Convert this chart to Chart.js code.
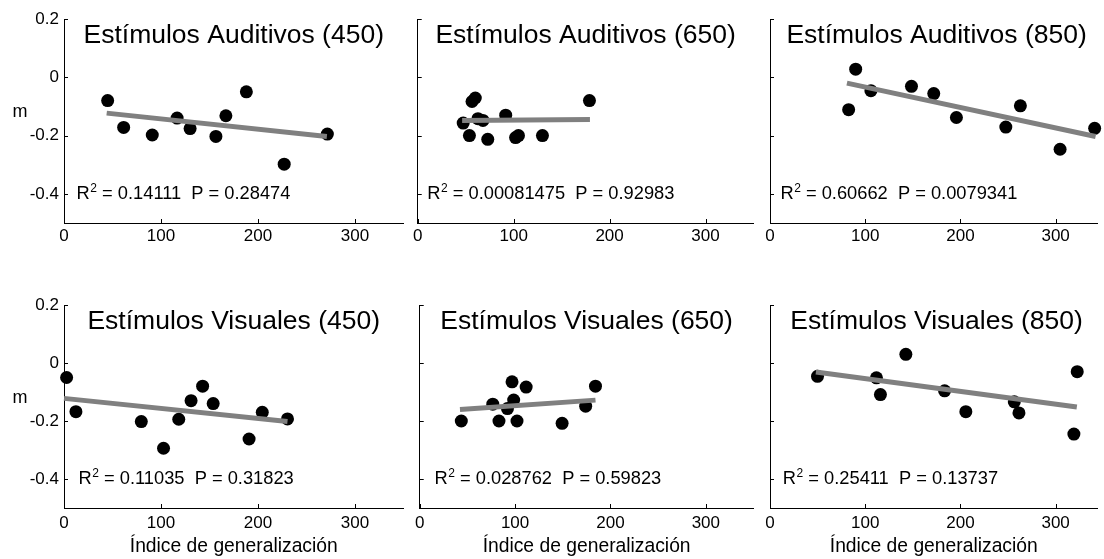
<!DOCTYPE html>
<html><head><meta charset="utf-8">
<script src="https://cdn.jsdelivr.net/npm/chart.js@4.4.0/dist/chart.umd.min.js"></script>
<style>
html,body{margin:0;padding:0;background:#fff;}
#wrap{position:relative;width:1104px;height:559px;overflow:hidden;background:#fff;}
canvas{position:absolute;}
</style></head><body><div id="wrap">
<canvas id="c1" width="410" height="280" style="left:0;top:0"></canvas>
<canvas id="c2" width="350" height="280" style="left:410px;top:0"></canvas>
<canvas id="c3" width="344" height="280" style="left:760px;top:0"></canvas>
<canvas id="c4" width="410" height="279" style="left:0;top:280px"></canvas>
<canvas id="c5" width="350" height="279" style="left:410px;top:280px"></canvas>
<canvas id="c6" width="344" height="279" style="left:760px;top:280px"></canvas>
</div>
<script>
// ---- data ----
const xTicks = [0, 100, 200, 300];
const yTicks = [-0.4, -0.2, 0, 0.2];

const audi450X = [45, 61.5, 91, 116.6, 130, 156.6, 166.9, 188, 227, 271.5];
const audi450Y = [-0.08, -0.172, -0.198, -0.14, -0.176, -0.203, -0.132, -0.05, -0.298, -0.195];
const audi450FitX = [44, 271];
const audi450FitY = [-0.123, -0.203];

const audi650X = [47.4, 56.6, 60, 53.9, 62.8, 68, 73, 91.7, 102, 105, 130, 179];
const audi650Y = [-0.157, -0.083, -0.071, -0.2, -0.142, -0.148, -0.213, -0.13, -0.207, -0.2, -0.2, -0.08];
const audi650FitX = [46.3, 179.5];
const audi650FitY = [-0.148, -0.145];

const audi850X = [82.6, 90, 106, 148.6, 172, 195.8, 247.7, 263, 304.7, 341];
const audi850Y = [-0.111, 0.028, -0.046, -0.031, -0.056, -0.138, -0.171, -0.098, -0.247, -0.175];
const audi850FitX = [80.8, 342];
const audi850FitY = [-0.02, -0.203];

const vis450X = [2.7, 12.3, 79.7, 102.6, 118.3, 131, 142.9, 153.8, 190.8, 204.4, 230.4];
const vis450Y = [-0.05, -0.168, -0.202, -0.294, -0.194, -0.13, -0.08, -0.14, -0.262, -0.17, -0.193];
const vis450FitX = [0, 230.4];
const vis450FitY = [-0.122, -0.202];

const vis650X = [43.6, 76.6, 83.1, 92, 96.8, 98.5, 102, 111.6, 149.3, 174, 184.3];
const vis650Y = [-0.2, -0.142, -0.2, -0.157, -0.065, -0.128, -0.2, -0.083, -0.208, -0.149, -0.08];
const vis650FitX = [42.2, 184.3];
const vis650FitY = [-0.16, -0.128];

const vis850X = [49.9, 111.8, 116, 142.7, 183.4, 205.7, 256.6, 261.5, 319.2, 322.7];
const vis850Y = [-0.046, -0.051, -0.109, 0.03, -0.096, -0.168, -0.134, -0.172, -0.245, -0.03];
const vis850FitX = [48.2, 322.3];
const vis850FitY = [-0.031, -0.152];

const titles = ['Estímulos Auditivos (450)', 'Estímulos Auditivos (650)', 'Estímulos Auditivos (850)',
                'Estímulos Visuales (450)', 'Estímulos Visuales (650)', 'Estímulos Visuales (850)'];
const r2Values = ['0.14111', '0.00081475', '0.60662', '0.11035', '0.028762', '0.25411'];
const pValues  = ['0.28474', '0.92983', '0.0079341', '0.31823', '0.59823', '0.13737'];
const yLabel = 'm';
const xLabel = 'Índice de generalización';

// ---- layout / styles ----
const FONT = '"Liberation Sans", Arial, Helvetica, sans-serif';
Chart.defaults.font.family = FONT;
Chart.defaults.color = '#000';

const panels = [
  {id:'c1', xs:audi450X, ys:audi450Y, fx:audi450FitX, fy:audi450FitY, yW:64, padTop:19, padRight:5, xH:57, xMax:350, showY:true,  showX:false, annotX:13},
  {id:'c2', xs:audi650X, ys:audi650Y, fx:audi650FitX, fy:audi650FitY, yW:5,  padTop:19, padRight:5, xH:57, xMax:350, showY:false, showX:false, annotX:10},
  {id:'c3', xs:audi850X, ys:audi850Y, fx:audi850FitX, fy:audi850FitY, yW:10, padTop:19, padRight:0, xH:57, xMax:344, showY:false, showX:false, annotX:11},
  {id:'c4', xs:vis450X,  ys:vis450Y,  fx:vis450FitX,  fy:vis450FitY,  yW:64, padTop:25, padRight:5, xH:51, xMax:350, showY:true,  showX:true,  annotX:15},
  {id:'c5', xs:vis650X,  ys:vis650Y,  fx:vis650FitX,  fy:vis650FitY,  yW:5,  padTop:25, padRight:5, xH:51, xMax:350, showY:false, showX:true,  annotX:15.5},
  {id:'c6', xs:vis850X,  ys:vis850Y,  fx:vis850FitX,  fy:vis850FitY,  yW:10, padTop:25, padRight:0, xH:51, xMax:344, showY:false, showX:true,  annotX:13.5}
];

const deco = {
  id: 'deco',
  afterDraw(chart, args, o) {
    const ctx = chart.ctx, ca = chart.chartArea, xs = chart.scales.x, ys = chart.scales.y;
    ctx.save();
    // inward tick marks
    ctx.strokeStyle = '#000'; ctx.lineWidth = 1;
    ctx.beginPath();
    ys.ticks.forEach(t => { const py = Math.round(ys.getPixelForValue(t.value)) + 0.5; ctx.moveTo(ca.left, py); ctx.lineTo(ca.left + 4, py); });
    xs.ticks.forEach(t => { const px = Math.round(xs.getPixelForValue(t.value)) + 0.5; ctx.moveTo(px, ca.bottom); ctx.lineTo(px, ca.bottom - 4); });
    ctx.stroke();
    ctx.fillStyle = '#000';
    // panel title inside the axes
    ctx.font = '26.5px ' + FONT;
    ctx.textAlign = 'center'; ctx.textBaseline = 'alphabetic';
    ctx.fillText(o.title, xs.getPixelForValue(175), ys.getPixelForValue(0.15) + 9);
    // statistics text
    let x = xs.getPixelForValue(o.annotX);
    const y = ys.getPixelForValue(-0.4) + 5;
    ctx.textAlign = 'left';
    ctx.font = '18.3px ' + FONT;
    ctx.fillText('R', x, y); x += ctx.measureText('R').width + 0.5;
    ctx.font = '12px ' + FONT;
    ctx.fillText('2', x, y - 7); x += ctx.measureText('2').width;
    ctx.font = '18.3px ' + FONT;
    ctx.fillText(' = ' + o.r2 + '  P = ' + o.p, x, y);
    // y label
    if (o.showY) {
      ctx.font = '18px ' + FONT; ctx.textAlign = 'center'; ctx.textBaseline = 'middle';
      ctx.fillText(yLabel, 20, ys.getPixelForValue(-0.12));
    }
    // x label
    if (o.showX) {
      ctx.font = '19.3px ' + FONT; ctx.textAlign = 'center'; ctx.textBaseline = 'alphabetic';
      ctx.fillText(xLabel, (ca.left + ca.right) / 2, 272);
    }
    ctx.restore();
  }
};

panels.forEach((p, i) => {
  new Chart(document.getElementById(p.id), {
    type: 'scatter',
    data: {
      datasets: [
        { type: 'line', data: p.fx.map((v, k) => ({x: v, y: p.fy[k]})), borderColor: '#808080', borderWidth: 5,
          pointRadius: 0, fill: false, order: 0, clip: false, borderCapStyle: 'butt' },
        { data: p.xs.map((v, k) => ({x: v, y: p.ys[k]})), backgroundColor: '#000', borderWidth: 0,
          pointRadius: 6.5, pointHoverRadius: 6.5, order: 1, clip: false }
      ]
    },
    options: {
      responsive: false, animation: false, events: [],
      layout: { padding: { top: p.padTop, right: p.padRight, left: 0, bottom: 0 } },
      plugins: { legend: { display: false }, tooltip: { enabled: false },
        deco: { title: titles[i], r2: r2Values[i], p: pValues[i], annotX: p.annotX, showY: p.showY, showX: p.showX } },
      scales: {
        x: { type: 'linear', min: 0, max: p.xMax,
             afterBuildTicks: s => { s.ticks = xTicks.map(v => ({value: v})); },
             afterFit: s => { s.height = p.xH; },
             grid: { display: false, drawTicks: false },
             border: { display: true, color: '#000', width: 1 },
             ticks: { includeBounds: false, padding: p.showX ? 5 : 3, font: { size: 17 }, color: '#000',
                      maxRotation: 0, autoSkip: false, callback: v => String(v) } },
        y: { type: 'linear', min: -0.5, max: 0.2,
             afterBuildTicks: s => { s.ticks = yTicks.map(v => ({value: v})); },
             afterFit: s => { s.width = p.yW; },
             grid: { display: false, drawTicks: false },
             border: { display: true, color: '#000', width: 1 },
             ticks: { display: p.showY, padding: 5, font: { size: 17 }, color: '#000',
                      callback: v => String(Math.round(v * 10) / 10) } }
      }
    },
    plugins: [deco]
  });
});
</script></body></html>
